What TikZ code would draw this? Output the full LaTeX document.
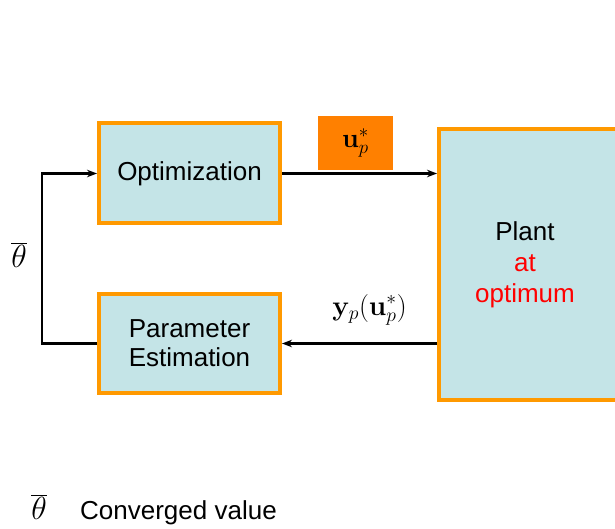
\RequirePackage{fix-cm}
\documentclass[tikz,border=0pt]{standalone}
\usepackage[no-math]{fontspec}
\setmainfont{Liberation Sans}
\usetikzlibrary{arrows.meta}

\definecolor{boxfill}{RGB}{196,228,231}
\definecolor{boxline}{RGB}{255,153,0}
\definecolor{tagfill}{RGB}{255,128,0}

\tikzset{
  block/.style={draw=boxline, fill=boxfill, line width=4pt, inner sep=0pt,
    align=center, font=\fontsize{26}{30}\selectfont},
  flow/.style={line width=2.5pt, -{Stealth[length=10pt,width=7.5pt]}},
  tag/.style={fill=tagfill, inner sep=0pt, minimum width=75pt, minimum height=54pt},
  mathlbl/.style={inner sep=0pt, font=\fontsize{28}{32}\selectfont},
  bigmath/.style={inner sep=0pt, font=\fontsize{32}{36}\selectfont},
  txt/.style={inner sep=0pt, font=\fontsize{26}{30}\selectfont}
}

\begin{document}
\begin{tikzpicture}[x=1pt, y=-1pt]
  \useasboundingbox (0,0) rectangle (615,529);
  \clip (0,0) rectangle (615,529);

  % blocks
  \node[block, minimum width=181pt, minimum height=100pt] (opt) at (189.5,173.5) {Optimization};
  \node[block, minimum width=181pt, minimum height=99pt] (pe) at (189.5,343.5) {Parameter\\[-1pt]Estimation};
  \node[block, minimum width=179pt, minimum height=271pt] (plant) at (528.5,264.5) {};
  \node[txt, align=center, font=\fontsize{26}{31}\selectfont] (plantlbl) at (525,265)
    {Plant\\\textcolor{red}{at}\\\textcolor{red}{optimum}};

  % signals
  \draw[flow] (opt.east) -- (opt.east -| plant.west);
  \draw[flow] (plant.west |- pe.east) -- (pe.east);
  \draw[flow] (pe.west) -- ++(-55,0) |- (opt.west);

  % signal labels
  \node[tag] (utag) at (355.5,143) {\fontsize{27}{31}\selectfont$\mathbf{u}_p^*$};
  \node[mathlbl, anchor=base] (ylbl) at (369.5,315) {$\mathbf{y}_p(\mathbf{u}_p^*)$};
  \node[bigmath] (thfb) at (19,255) {$\overline{\theta}$};

  % legend
  \node[bigmath] (thleg) at (39,507) {$\overline{\theta}$};
  \node[txt, anchor=base west] (legtxt) at (80,519) {Converged value};
\end{tikzpicture}
\end{document}
